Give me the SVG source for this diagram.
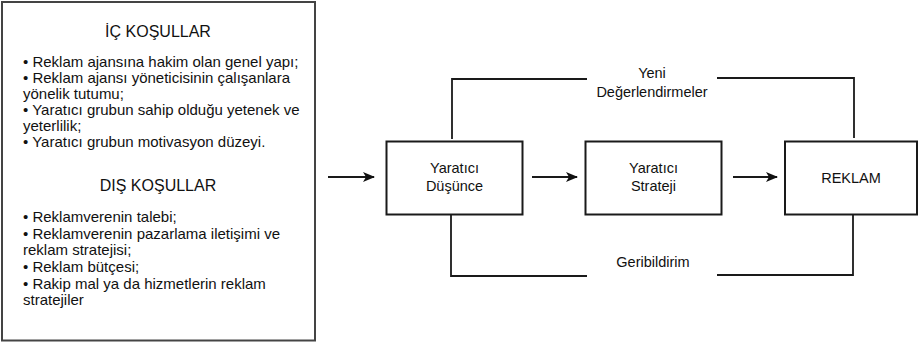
<svg xmlns="http://www.w3.org/2000/svg" width="920" height="342" viewBox="0 0 920 342">
<defs>
<style>
text{font-family:"Liberation Sans",Arial,sans-serif;fill:#111;}
.t{font-size:15px;}
.h{font-size:16px;text-anchor:middle;}
.c{font-size:14.5px;text-anchor:middle;}
.box{fill:#fff;stroke:#1a1a1a;stroke-width:2;}
.ln{fill:none;stroke:#1a1a1a;stroke-width:1.8;}
</style>
<marker id="ah" viewBox="0 0 12 10" refX="11" refY="5" markerWidth="12" markerHeight="10" markerUnits="userSpaceOnUse" orient="auto">
<path d="M0,0 L12,5 L0,10 L3,5 z" fill="#111"/>
</marker>
</defs>
<rect width="920" height="342" fill="#fff"/>
<g id="kosullar">
<rect x="2" y="2" width="313" height="338.5" fill="#fff" stroke="#444" stroke-width="2"/>
<text class="h" x="158" y="37">İÇ KOŞULLAR</text>
<text class="t" x="23" y="67">• Reklam ajansına hakim olan genel yapı;</text>
<text class="t" x="23" y="83">• Reklam ajansı yöneticisinin çalışanlara</text>
<text class="t" x="23" y="99">yönelik tutumu;</text>
<text class="t" x="23" y="115">• Yaratıcı grubun sahip olduğu yetenek ve</text>
<text class="t" x="23" y="131">yeterlilik;</text>
<text class="t" x="23" y="147">• Yaratıcı grubun motivasyon düzeyi.</text>
<text class="h" x="158" y="191">DIŞ KOŞULLAR</text>
<text class="t" x="23" y="222">• Reklamverenin talebi;</text>
<text class="t" x="23" y="239">• Reklamverenin pazarlama iletişimi ve</text>
<text class="t" x="23" y="255">reklam stratejisi;</text>
<text class="t" x="23" y="272">• Reklam bütçesi;</text>
<text class="t" x="23" y="289">• Rakip mal ya da hizmetlerin reklam</text>
<text class="t" x="23" y="305">stratejiler</text>
</g>
<g id="connectors">
<line class="ln" x1="328" y1="177" x2="374" y2="177" marker-end="url(#ah)"/>
<line class="ln" x1="532" y1="177" x2="577" y2="177" marker-end="url(#ah)"/>
<line class="ln" x1="733" y1="177" x2="777" y2="177" marker-end="url(#ah)"/>
<polyline class="ln" points="452,139 452,79 587,79"/>
<polyline class="ln" points="717,78 854,78 854,138"/>
<polyline class="ln" points="451,215 451,276 587,276"/>
<polyline class="ln" points="717,275 853,275 853,215"/>
<text class="c" x="652" y="78">Yeni</text>
<text class="c" x="652" y="97">Değerlendirmeler</text>
<text class="c" x="653" y="267">Geribildirim</text>
</g>
<g id="yaratici-dusunce">
<rect class="box" x="386.5" y="141.5" width="136" height="73"/>
<text class="c" x="454.5" y="173">Yaratıcı</text>
<text class="c" x="454.5" y="191">Düşünce</text>
</g>
<g id="yaratici-strateji">
<rect class="box" x="585.5" y="141.5" width="136" height="73"/>
<text class="c" x="653.5" y="173">Yaratıcı</text>
<text class="c" x="653.5" y="191">Strateji</text>
</g>
<g id="reklam">
<rect class="box" x="785" y="141.5" width="132" height="73"/>
<text class="c" x="851" y="183">REKLAM</text>
</g>
</svg>
